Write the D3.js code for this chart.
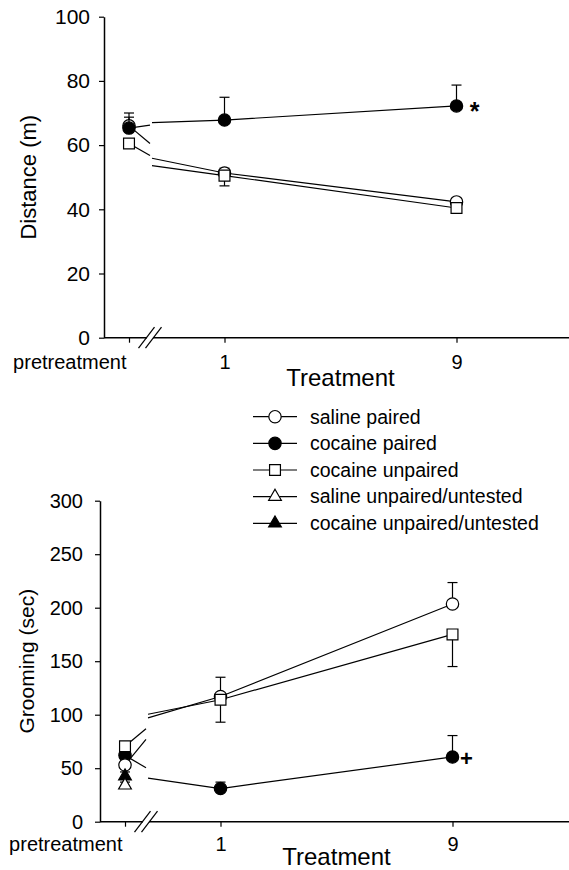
<!DOCTYPE html>
<html>
<head>
<meta charset="UTF-8">
<title>Distance and grooming</title>
<style>
body {
  margin: 0;
  background: #fff;
}
svg text {
  font-family: "Liberation Sans", Arial, sans-serif;
  fill: #000;
}
</style>
</head>
<body>
<script src="https://cdn.jsdelivr.net/npm/d3@7"></script>
<script>
// x positions: pretreatment sits left of the axis break
var xLabels = ["pretreatment", "1", "9"];
var xValues = [-7, 1, 9];
var xBreak = [-4, -1.5];
var xMax = 15;

var seriesNames = ["saline paired", "cocaine paired", "cocaine unpaired",
                   "saline unpaired/untested", "cocaine unpaired/untested"];
var seriesShapes = ["circle", "circle", "square", "triangle", "triangle"];
var seriesFilled = [false, true, false, false, true];
var errDirection = [1, 1, -1, 1, 1]; // error bars drawn up or down

// distance (m)
var distanceValues = [
  [66, 51.3, 42.3],
  [65.3, 67.8, 72.2],
  [60.5, 50.5, 40.4]
];
var distanceErrors = [
  [2.7, 1.5, 0.8],
  [4.7, 7.1, 6.5],
  [1.2, 3.2, 1]
];

// grooming (sec)
var groomingValues = [
  [53, 117, 203.5],
  [62, 31, 60.5],
  [70.5, 114, 175],
  [34],
  [42.5]
];
var groomingErrors = [
  [4, 18, 20],
  [5, 6, 20],
  [4, 21, 30],
  [3],
  [4]
];

var width = 569, height = 870;
var svg = d3.select("body").append("svg")
  .attr("width", width)
  .attr("height", height);

var symbolFor = function(shape) {
  if (shape == "square") return d3.symbol().type(d3.symbolSquare).size(118);
  if (shape == "triangle") return d3.symbol().type(d3.symbolTriangle).size(70);
  return d3.symbol().type(d3.symbolCircle).size(120);
};

// value on the straight line between pretreatment and day 1
var valueAt = function(vals, x) {
  var t = (x - xValues[0]) / (xValues[1] - xValues[0]);
  return vals[0] + t * (vals[1] - vals[0]);
};

var drawPanel = function(p) {
  var g = svg.append("g");
  var y = d3.scaleLinear().domain(p.yDomain).range([p.bottom, p.top]);
  var xPre = d3.scaleLinear()
    .domain([xValues[0], xBreak[0]])
    .range([p.left + 25, p.left + 46]);
  var xPost = d3.scaleLinear()
    .domain([xBreak[1], xMax])
    .range([p.left + 48, p.left + 48 + (xMax - xBreak[1]) * 29]);
  var xAt = function(i) {
    return i == 0 ? xPre(xValues[0]) : xPost(xValues[i]);
  };

  // y axis
  var yAxis = d3.axisLeft(y)
    .tickValues(p.yTicks)
    .tickSize(5)
    .tickSizeOuter(0)
    .tickPadding(p.tickPad);
  var ya = g.append("g")
    .attr("transform", "translate(" + p.left + ",0)")
    .call(yAxis);
  ya.select(".domain").attr("stroke-width", 1.5);
  ya.selectAll(".tick line").attr("stroke-width", 1.2);
  ya.selectAll("text")
    .style("font-size", p.fontSize + "px");

  // x axis, two pieces with a break
  var gapL = xPre.range()[1] - 3;
  var gapR = xPost.range()[0] + 1;
  g.append("line")
    .attr("x1", p.left).attr("x2", gapL)
    .attr("y1", p.bottom).attr("y2", p.bottom)
    .attr("stroke", "black").attr("stroke-width", 1.5);
  g.append("line")
    .attr("x1", gapR).attr("x2", width)
    .attr("y1", p.bottom).attr("y2", p.bottom)
    .attr("stroke", "black").attr("stroke-width", 1.5);
  var mid = (gapL + gapR) / 2;
  [-3.5, 3.5].forEach(function(o) {
    g.append("line")
      .attr("x1", mid + o - 8).attr("y1", p.bottom + 10.5)
      .attr("x2", mid + o + 8).attr("y2", p.bottom - 10.5)
      .attr("stroke", "black").attr("stroke-width", 1.2);
  });

  var preAxis = d3.axisBottom(xPre)
    .tickValues([xValues[0]])
    .tickFormat(function() { return xLabels[0]; })
    .tickSize(5).tickSizeOuter(0).tickPadding(p.xPad);
  var pa = g.append("g")
    .attr("transform", "translate(0," + p.bottom + ")")
    .call(preAxis);
  pa.select(".domain").remove();
  pa.selectAll("text")
    .attr("text-anchor", "end")
    .attr("dx", "-3px")
    .style("font-size", p.xFontSize + "px");

  var postAxis = d3.axisBottom(xPost)
    .tickValues(xValues.slice(1))
    .tickFormat(function(d) { return xLabels[xValues.indexOf(d)]; })
    .tickSize(5).tickSizeOuter(0).tickPadding(p.xPad);
  var pb = g.append("g")
    .attr("transform", "translate(0," + p.bottom + ")")
    .call(postAxis);
  pb.select(".domain").remove();
  pb.selectAll("text").style("font-size", p.xFontSize + "px");
  g.selectAll(".tick line").attr("stroke-width", 1.2);

  // axis titles
  g.append("text")
    .attr("x", (xPost(xValues[1]) + xPost(xValues[2])) / 2)
    .attr("y", p.bottom + p.titlePad)
    .attr("text-anchor", "middle")
    .style("font-size", "24px")
    .text("Treatment");
  g.append("text")
    .attr("transform", "translate(" + p.yLabelX + "," + ((p.top + p.bottom) / 2) + ") rotate(-90)")
    .attr("text-anchor", "middle")
    .style("font-size", p.yLabelSize + "px")
    .text(p.yLabel);

  var line = d3.line();

  // connecting lines
  p.order.forEach(function(s) {
    var v = p.values[s];
    if (v.length < 2) return;
    var pre = [[xAt(0), y(v[0])], [xPre(xBreak[0]), y(valueAt(v, xBreak[0]))]];
    var post = [[xPost(xBreak[1]), y(valueAt(v, xBreak[1]))]];
    for (var i = 1; i < v.length; i++) post.push([xAt(i), y(v[i])]);
    [pre, post].forEach(function(pts) {
      g.append("path")
        .attr("d", line(pts))
        .attr("fill", "none")
        .attr("stroke", "black")
        .attr("stroke-width", 1.2);
    });
  });

  // error bars and markers
  p.order.forEach(function(s) {
    var v = p.values[s], e = p.errors[s];
    for (var i = 0; i < v.length; i++) {
      var x = xAt(i);
      var yEnd = y(v[i] + errDirection[s] * e[i]);
      g.append("line")
        .attr("x1", x).attr("x2", x)
        .attr("y1", y(v[i])).attr("y2", yEnd)
        .attr("stroke", "black").attr("stroke-width", 1.2);
      g.append("line")
        .attr("x1", x - 5).attr("x2", x + 5)
        .attr("y1", yEnd).attr("y2", yEnd)
        .attr("stroke", "black").attr("stroke-width", 1.2);
    }
    g.selectAll(null)
      .data(v)
      .enter().append("path")
      .attr("d", symbolFor(seriesShapes[s]))
      .attr("transform", function(d, i) { return "translate(" + xAt(i) + "," + y(d) + ")"; })
      .attr("fill", seriesFilled[s] ? "black" : "white")
      .attr("stroke", "black")
      .attr("stroke-width", 1.2);
  });

  // significance mark next to last cocaine paired point
  var last = p.values[1].length - 1;
  g.append("text")
    .attr("x", xAt(last) + p.markDx)
    .attr("y", y(p.values[1][last]) + p.markDy)
    .attr("text-anchor", "middle")
    .style("font-size", p.markSize + "px")
    .style("font-weight", "bold")
    .text(p.mark);
};

drawPanel({
  left: 104, top: 16.7, bottom: 337.7,
  yDomain: [0, 100], yTicks: [0, 20, 40, 60, 80, 100],
  yLabel: "Distance (m)", yLabelX: 36, yLabelSize: 22,
  fontSize: 21, tickPad: 9, xFontSize: 20, xPad: 12, titlePad: 48,
  values: distanceValues, errors: distanceErrors, order: [0, 1, 2],
  mark: "*", markDx: 18, markDy: 14, markSize: 25
});

drawPanel({
  left: 100, top: 500.7, bottom: 821.7,
  yDomain: [0, 300], yTicks: [0, 50, 100, 150, 200, 250, 300],
  yLabel: "Grooming (sec)", yLabelX: 34, yLabelSize: 21,
  fontSize: 20, tickPad: 12, xFontSize: 20, xPad: 10, titlePad: 43,
  values: groomingValues, errors: groomingErrors, order: [1, 0, 2, 4, 3],
  mark: "+", markDx: 14, markDy: 9, markSize: 22
});

// legend
var legend = svg.append("g").attr("transform", "translate(253,416.7)");
seriesNames.forEach(function(name, i) {
  var row = legend.append("g").attr("transform", "translate(0," + (i * 26.65) + ")");
  row.append("line")
    .attr("x1", 0).attr("x2", 44)
    .attr("stroke", "black").attr("stroke-width", 1.2);
  row.append("path")
    .attr("d", symbolFor(seriesShapes[i]))
    .attr("transform", "translate(22,0)")
    .attr("fill", seriesFilled[i] ? "black" : "white")
    .attr("stroke", "black")
    .attr("stroke-width", 1.2);
  row.append("text")
    .attr("x", 57)
    .attr("dy", "0.35em")
    .style("font-size", "19.5px")
    .text(name);
});
</script>
</body>
</html>
